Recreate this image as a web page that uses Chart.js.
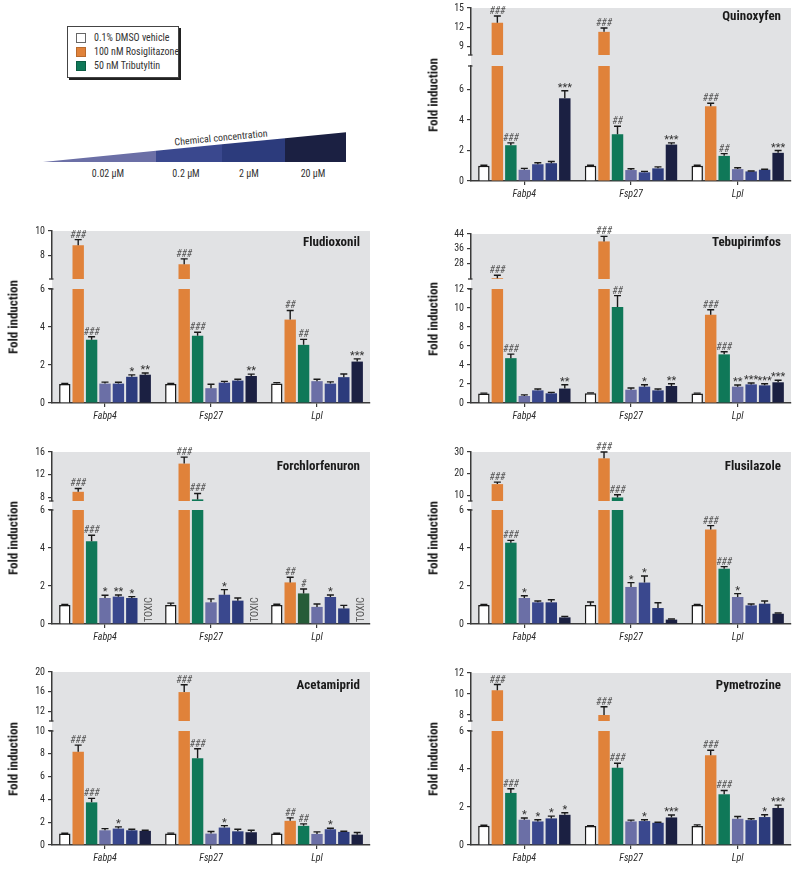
<!DOCTYPE html>
<html lang="en">
<head>
<meta charset="UTF-8">
<title>Fold induction of adipogenic marker genes</title>
<script src="https://cdn.jsdelivr.net/npm/chart.js@4.4.0/dist/chart.umd.min.js"></script>
<style>
  body { margin: 0; background: #fff; }
  #page {
    position: relative; width: 800px; height: 879px; overflow: hidden;
    font-family: 'Roboto Condensed', 'DejaVu Sans Condensed', sans-serif;
    color: #222;
  }
  canvas { position: absolute; }
  .ylab {
    position: absolute; transform: translate(-50%, -50%) rotate(-90deg);
    font-weight: bold; font-size: 13px; white-space: nowrap; color: #1a1a1a;
  }
  #legend {
    position: absolute; left: 67px; top: 26px; width: 110px; height: 50px;
    border: 1px solid #444; box-shadow: 2px 2px 0 #222; background: #fff;
  }
  .row { position: absolute; left: 8px; height: 12px; line-height: 12px; font-size: 10px; color: #333; white-space: nowrap; }
  .sw { display: inline-block; width: 10px; height: 10px; vertical-align: top; margin-top: 1px; margin-right: 8px; box-sizing: border-box; border: 1px solid #666; }
</style>
</head>
<body>
<div id="page">
  <div id="legend">
    <div class="row" style="top:5px"><span class="sw" style="background:#fff"></span>0.1% DMSO vehicle</div>
    <div class="row" style="top:19px"><span class="sw" style="background:#e0823a;border-color:#b86a2e"></span>100 nM Rosiglitazone</div>
    <div class="row" style="top:33px"><span class="sw" style="background:#0f7858;border-color:#0b5c43"></span>50 nM Tributyltin</div>
  </div>
  <svg width="400" height="200" style="position:absolute;left:0;top:0" font-family="'Roboto Condensed','DejaVu Sans Condensed',sans-serif">
    <polygon points="43,162 156,150.8 156,162" fill="#6b6fa6"/>
    <polygon points="156,150.8 222,144.3 222,162 156,162" fill="#3a488e"/>
    <polygon points="222,144.3 285,138.2 285,162 222,162" fill="#2c3b7c"/>
    <polygon points="285,138.2 346,132.3 346,162 285,162" fill="#1b2042"/>
    <text x="221" y="141" font-size="10" fill="#333" text-anchor="middle" transform="rotate(-5.5 221 138)">Chemical concentration</text>
    <text x="108" y="177" font-size="10" fill="#333" text-anchor="middle">0.02 µM</text>
    <text x="186" y="177" font-size="10" fill="#333" text-anchor="middle">0.2 µM</text>
    <text x="249" y="177" font-size="10" fill="#333" text-anchor="middle">2 µM</text>
    <text x="313" y="177" font-size="10" fill="#333" text-anchor="middle">20 µM</text>
  </svg>
</div>
<script>
// genes on the x axis, treatment groups as bar series
const genes = ['Fabp4', 'Fsp27', 'Lpl'];
const groups = ['0.1% DMSO vehicle', '100 nM Rosiglitazone', '50 nM Tributyltin',
                '0.02 µM', '0.2 µM', '2 µM', '20 µM'];

// rows follow groups, columns follow genes
const quinoxyfenMean = [
  [1.0, 1.0, 1.0], [12.7, 11.3, 4.9], [2.35, 3.07, 1.65],
  [0.74, 0.72, 0.78], [1.1, 0.57, 0.63], [1.17, 0.83, 0.74], [5.43, 2.39, 1.85]
];
const quinoxyfenSem = [
  [0.03, 0.03, 0.03], [1.06, 0.6, 0.2], [0.15, 0.52, 0.15],
  [0.09, 0.08, 0.09], [0.1, 0.06, 0.03], [0.11, 0.1, 0.03], [0.5, 0.11, 0.15]
];
const quinoxyfenSig = [
  ['', '', ''], ['###', '###', '###'], ['###', '##', '##'],
  ['', '', ''], ['', '', ''], ['', '', ''], ['***', '***', '***']
];
const quinoxyfenTicksHigh = [9, 12, 15];
const quinoxyfenTicksLow = [0, 2, 4, 6];

const fludioxonilMean = [
  [1.0, 1.0, 1.02], [8.84, 7.3, 4.39], [3.33, 3.54, 3.06],
  [1.02, 0.78, 1.15], [1.02, 1.07, 1.02], [1.38, 1.18, 1.36], [1.49, 1.42, 2.18]
];
const fludioxonilSem = [
  [0.03, 0.03, 0.05], [0.46, 0.43, 0.48], [0.16, 0.18, 0.29],
  [0.08, 0.21, 0.1], [0.07, 0.07, 0.09], [0.1, 0.07, 0.17], [0.09, 0.1, 0.14]
];
const fludioxonilSig = [
  ['', '', ''], ['###', '###', '##'], ['###', '###', '##'],
  ['', '', ''], ['', '', ''], ['*', '', ''], ['**', '**', '***']
];
const fludioxonilTicksHigh = [8, 10];
const fludioxonilTicksLow = [0, 2, 4, 6];

const tebupirimfosMean = [
  [1.0, 1.02, 1.0], [20.1, 40.0, 9.3], [4.72, 10.1, 5.12],
  [0.74, 1.4, 1.72], [1.33, 1.72, 1.96], [1.02, 1.33, 1.86], [1.52, 1.79, 2.18]
];
const tebupirimfosSem = [
  [0.04, 0.05, 0.04], [1.6, 2.7, 0.52], [0.42, 1.2, 0.28],
  [0.12, 0.18, 0.18], [0.15, 0.2, 0.14], [0.1, 0.14, 0.17], [0.4, 0.24, 0.21]
];
const tebupirimfosSig = [
  ['', '', ''], ['###', '###', '###'], ['###', '##', '###'],
  ['', '', '**'], ['', '*', '***'], ['', '', '***'], ['**', '**', '***']
];
const tebupirimfosTicksHigh = [28, 36, 44];
const tebupirimfosTicksLow = [0, 2, 4, 6, 8, 10, 12];

// null = TOXIC (no measurement)
const forchlorfenuronMean = [
  [1.0, 1.0, 1.0], [9.04, 13.97, 2.19], [4.35, 7.71, 1.61],
  [1.37, 1.14, 0.9], [1.44, 1.54, 1.42], [1.37, 1.23, 0.82], [null, null, null]
];
const forchlorfenuronSem = [
  [0.03, 0.1, 0.04], [0.58, 1.13, 0.27], [0.32, 1.04, 0.23],
  [0.14, 0.18, 0.15], [0.09, 0.27, 0.11], [0.07, 0.14, 0.16], [0, 0, 0]
];
const forchlorfenuronSig = [
  ['', '', ''], ['###', '###', '##'], ['###', '###', '#'],
  ['*', '', ''], ['**', '*', '*'], ['*', '', ''], ['', '', '']
];
const forchlorfenuronTicksHigh = [8, 12, 16];
const forchlorfenuronTicksLow = [0, 2, 4, 6];

const flusilazoleMean = [
  [1.0, 1.0, 1.0], [15.3, 27.1, 4.98], [4.28, 9.2, 2.91],
  [1.37, 1.95, 1.42], [1.14, 2.18, 0.98], [1.14, 0.84, 1.07], [0.35, 0.23, 0.54]
];
const flusilazoleSem = [
  [0.03, 0.16, 0.03], [0.9, 2.9, 0.2], [0.12, 1.25, 0.11],
  [0.12, 0.23, 0.18], [0.07, 0.35, 0.07], [0.14, 0.28, 0.14], [0.05, 0.03, 0.04]
];
const flusilazoleSig = [
  ['', '', ''], ['###', '###', '###'], ['###', '###', '###'],
  ['*', '*', '*'], ['', '*', ''], ['', '', ''], ['', '', '']
];
const flusilazoleTicksHigh = [10, 20, 30];
const flusilazoleTicksLow = [0, 2, 4, 6];

const acetamipridMean = [
  [1.0, 1.0, 1.0], [8.18, 15.9, 2.12], [3.74, 7.62, 1.68],
  [1.29, 1.0, 0.97], [1.44, 1.53, 1.38], [1.29, 1.2, 1.15], [1.24, 1.12, 0.91]
];
const acetamipridSem = [
  [0.03, 0.04, 0.03], [0.58, 1.5, 0.26], [0.35, 0.82, 0.17],
  [0.15, 0.18, 0.18], [0.15, 0.17, 0.09], [0.09, 0.18, 0.06], [0.05, 0.17, 0.18]
];
const acetamipridSig = [
  ['', '', ''], ['###', '###', '##'], ['###', '###', '##'],
  ['', '', ''], ['*', '*', '*'], ['', '', ''], ['', '', '']
];
const acetamipridTicksHigh = [12, 16, 20];
const acetamipridTicksLow = [0, 2, 4, 6, 8, 10];

const pymetrozineMean = [
  [1.01, 1.0, 1.0], [10.36, 8.0, 4.73], [2.74, 4.07, 2.67],
  [1.33, 1.24, 1.38], [1.24, 1.26, 1.31], [1.4, 1.17, 1.47], [1.59, 1.45, 1.95]
];
const pymetrozineSem = [
  [0.03, 0.02, 0.06], [0.54, 0.79, 0.26], [0.22, 0.23, 0.2],
  [0.09, 0.07, 0.12], [0.09, 0.07, 0.07], [0.12, 0.03, 0.12], [0.11, 0.13, 0.15]
];
const pymetrozineSig = [
  ['', '', ''], ['###', '###', '###'], ['###', '###', '###'],
  ['*', '', ''], ['*', '*', ''], ['*', '', '*'], ['*', '***', '***']
];
const pymetrozineTicksHigh = [8, 10, 12];
const pymetrozineTicksLow = [0, 2, 4, 6];

const FONT = "'Roboto Condensed', 'DejaVu Sans Condensed', sans-serif";
const colors = ['#ffffff', '#e0823a', '#0f7858', '#6b6fa6', '#3a488e', '#2c3b7c', '#1b2042'];

// panel layout: y positions on the page (top of axis, break, bottom of axis)
const panels = [
  { title: 'Quinoxyfen', side: 'R', top: 8, breakTop: 55, breakBottom: 66, bottom: 181,
    highMin: 7.71, highMax: 15, lowMax: 7.55, titleDy: 9,
    mean: quinoxyfenMean, sem: quinoxyfenSem, sig: quinoxyfenSig,
    ticksHigh: quinoxyfenTicksHigh, ticksLow: quinoxyfenTicksLow },
  { title: 'Fludioxonil', side: 'L', top: 231, breakTop: 279, breakBottom: 289, bottom: 403,
    highMin: 6.09, highMax: 10, lowMax: 6, titleDy: 12,
    mean: fludioxonilMean, sem: fludioxonilSem, sig: fludioxonilSig,
    ticksHigh: fludioxonilTicksHigh, ticksLow: fludioxonilTicksLow },
  { title: 'Tebupirimfos', side: 'R', top: 234, breakTop: 279, breakBottom: 289, bottom: 403,
    highMin: 19.7, highMax: 44, lowMax: 12, titleDy: 9,
    mean: tebupirimfosMean, sem: tebupirimfosSem, sig: tebupirimfosSig,
    ticksHigh: tebupirimfosTicksHigh, ticksLow: tebupirimfosTicksLow },
  { title: 'Forchlorfenuron', side: 'L', top: 452, breakTop: 501, breakBottom: 510, bottom: 624,
    highMin: 7.43, highMax: 16, lowMax: 6, titleDy: 15,
    mean: forchlorfenuronMean, sem: forchlorfenuronSem, sig: forchlorfenuronSig,
    ticksHigh: forchlorfenuronTicksHigh, ticksLow: forchlorfenuronTicksLow,
    tbtColors: ['#0f7858', '#0f7858', '#265c38'] },
  { title: 'Flusilazole', side: 'R', top: 452, breakTop: 501, breakBottom: 510, bottom: 624,
    highMin: 7.57, highMax: 30, lowMax: 6, titleDy: 15,
    mean: flusilazoleMean, sem: flusilazoleSem, sig: flusilazoleSig,
    ticksHigh: flusilazoleTicksHigh, ticksLow: flusilazoleTicksLow },
  { title: 'Acetamiprid', side: 'L', top: 672, breakTop: 721, breakBottom: 731, bottom: 845,
    highMin: 10, highMax: 20, lowMax: 10, titleDy: 14,
    mean: acetamipridMean, sem: acetamipridSem, sig: acetamipridSig,
    ticksHigh: acetamipridTicksHigh, ticksLow: acetamipridTicksLow },
  { title: 'Pymetrozine', side: 'R', top: 673, breakTop: 721, breakBottom: 731, bottom: 845,
    highMin: 7.43, highMax: 12, lowMax: 6, titleDy: 13,
    mean: pymetrozineMean, sem: pymetrozineSem, sig: pymetrozineSig,
    ticksHigh: pymetrozineTicksHigh, ticksLow: pymetrozineTicksLow }
];

Chart.defaults.font.family = FONT;
Chart.defaults.color = '#2a2a2a';
Chart.defaults.animation = false;
Chart.defaults.plugins.legend.display = false;
Chart.defaults.plugins.tooltip.enabled = false;

const page = document.getElementById('page');

function makeCanvas(left, top, w, h) {
  const c = document.createElement('canvas');
  c.width = w;
  c.height = h;
  c.style.left = left + 'px';
  c.style.top = top + 'px';
  page.appendChild(c);
  return c;
}

// gray plot area, error bars, significance marks, titles
function decoPlugin(p, upper) {
  return {
    id: 'deco',
    beforeDraw(chart) {
      const { ctx, chartArea: a } = chart;
      const extra = upper ? p.breakBottom - p.breakTop : 0;
      ctx.save();
      ctx.fillStyle = '#e1e2e4';
      ctx.fillRect(a.left, a.top, a.right - a.left, a.bottom - a.top + extra);
      ctx.restore();
    },
    // keep the bars inside this segment of the broken axis
    beforeDatasetsDraw(chart) {
      const { ctx, chartArea: a } = chart;
      ctx.save();
      ctx.beginPath();
      ctx.rect(a.left, a.top, a.right - a.left, a.bottom - a.top);
      ctx.clip();
    },
    afterDatasetsDraw(chart) {
      chart.ctx.restore();
    },
    afterDraw(chart) {
      const { ctx, chartArea: a } = chart;
      const y = chart.scales.y;
      ctx.save();
      p.mean.forEach((row, k) => row.forEach((m, i) => {
        const el = chart.getDatasetMeta(k).data[i];
        if (!el) return;
        const x = el.x;
        if (m === null) {
          if (!upper) {
            ctx.save();
            ctx.translate(x + 4, a.bottom - 2);
            ctx.rotate(-Math.PI / 2);
            ctx.font = '10px ' + FONT;
            ctx.fillStyle = '#555';
            ctx.textAlign = 'left';
            ctx.textBaseline = 'middle';
            ctx.fillText('TOXIC', 0, 0);
            ctx.restore();
          }
          return;
        }
        if ((m > p.lowMax) !== upper) return;
        const yb = y.getPixelForValue(m);
        const yt = y.getPixelForValue(m + p.sem[k][i]);
        ctx.strokeStyle = '#1a1a1a';
        ctx.lineWidth = 1.4;
        ctx.beginPath();
        ctx.moveTo(x, yb);
        ctx.lineTo(x, yt);
        ctx.moveTo(x - 3.5, yt);
        ctx.lineTo(x + 3.5, yt);
        ctx.stroke();
        const s = p.sig[k][i];
        if (s) {
          ctx.textAlign = 'center';
          ctx.textBaseline = 'alphabetic';
          if (s[0] === '#') {
            ctx.font = 'italic 10px ' + FONT;
            ctx.fillStyle = '#555';
            ctx.fillText(s, x, yt - 2);
          } else {
            ctx.font = '11px ' + FONT;
            ctx.fillStyle = '#333';
            ctx.fillText(s, x, yt);
          }
        }
      }));
      // small caps where the axis is broken
      ctx.strokeStyle = '#3a3a3a';
      ctx.lineWidth = 1.3;
      ctx.beginPath();
      const by = upper ? a.bottom : a.top;
      ctx.moveTo(a.left - 3, by);
      ctx.lineTo(a.left + 1.5, by);
      ctx.stroke();
      if (upper) {
        ctx.font = 'bold 13px ' + FONT;
        ctx.fillStyle = '#1a1a1a';
        ctx.textAlign = 'right';
        ctx.textBaseline = 'middle';
        ctx.fillText(p.title, a.right - 10, a.top + p.titleDy);
      }
      ctx.restore();
    }
  };
}

function config(p, upper, yw, padding) {
  const datasets = groups.map((g, k) => ({
    label: g,
    data: p.mean[k],
    backgroundColor: (k === 2 && p.tbtColors) ? p.tbtColors : colors[k],
    borderColor: '#1a1a1a',
    borderWidth: k === 0 ? 1.5 : 0,
    categoryPercentage: 0.885,
    barPercentage: 0.85,
    clip: 0
  }));
  const ticks = upper ? p.ticksHigh : p.ticksLow;
  return {
    type: 'bar',
    data: { labels: genes, datasets },
    options: {
      responsive: false,
      layout: { padding },
      scales: {
        x: {
          display: !upper,
          offset: true,
          grid: { drawOnChartArea: false, offset: false, tickLength: 4, color: '#3a3a3a', lineWidth: 1.2 },
          border: { color: '#3a3a3a', width: 1.5 },
          ticks: { padding: 3, color: '#2a2a2a', font: { size: 10, style: 'italic' } },
          afterFit: s => { if (!upper) s.height = 26; }
        },
        y: {
          min: upper ? p.highMin : 0,
          max: upper ? p.highMax : p.lowMax,
          afterBuildTicks: s => { s.ticks = ticks.map(v => ({ value: v })); },
          grid: { drawOnChartArea: false, tickLength: 4, color: '#3a3a3a', lineWidth: 1.2 },
          border: { color: '#3a3a3a', width: 1.5 },
          ticks: { padding: 3, color: '#2a2a2a', font: { size: 10 } },
          afterFit: s => { s.width = yw; }
        }
      }
    },
    plugins: [decoPlugin(p, upper)]
  };
}

panels.forEach(p => {
  const left = p.side === 'L' ? 0 : 400;
  const w = p.side === 'L' ? 380 : 400;
  const yw = p.side === 'L' ? 52 : 71;
  const pr = p.side === 'L' ? 10 : 9;

  const hiT = 16, hiB = 14;
  const c1 = makeCanvas(left, p.top - hiT, w, p.breakTop - p.top + hiT + hiB);
  new Chart(c1, config(p, true, yw, { top: hiT, bottom: hiB, left: 0, right: pr }));

  const loT = 12;
  const c2 = makeCanvas(left, p.breakBottom - loT, w, p.bottom - p.breakBottom + loT + 26);
  new Chart(c2, config(p, false, yw, { top: loT, bottom: 0, left: 0, right: pr }));

  const lab = document.createElement('div');
  lab.className = 'ylab';
  lab.textContent = 'Fold induction';
  lab.style.left = (p.side === 'L' ? 13 : 433) + 'px';
  lab.style.top = ((p.top + p.bottom) / 2) + 'px';
  page.appendChild(lab);
});
</script>
</body>
</html>
